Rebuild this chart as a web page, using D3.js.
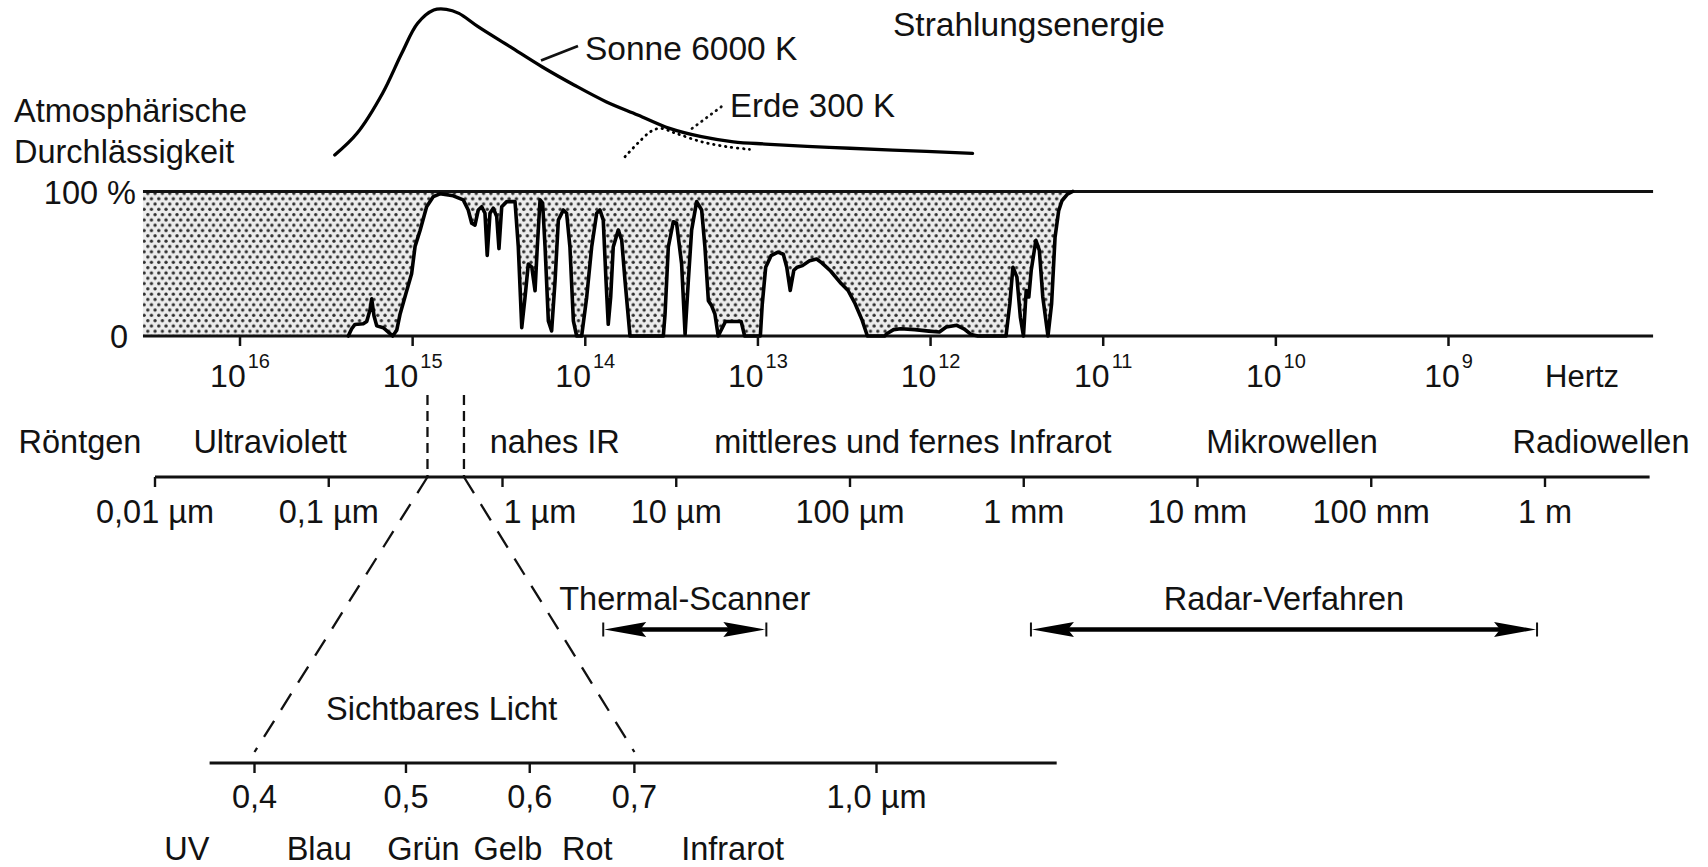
<!DOCTYPE html>
<html><head><meta charset="utf-8">
<script src="https://cdn.jsdelivr.net/npm/d3@7"></script>
<style>
html,body{margin:0;padding:0;background:#fff;}
svg text{font-family:"Liberation Sans",Arial,Helvetica,sans-serif;fill:#121212;}
</style></head><body>
<svg id="c" width="1708" height="867"></svg>
<script>
// ---------------- DATA ----------------
// frequency axis: tick exponents (10^n Hz) and visible extent of the panel (exponents)
const freqTickExps = [16, 15, 14, 13, 12, 11, 10, 9];
const freqUnit = "Hertz";
const panelExtentExp = [16.562, 7.815];

// atmospheric transmission: [log10 frequency (Hz), transmission %]
const transmission = [
[15.373,0],[15.353,5],[15.334,8],[15.286,8.5],[15.266,10],[15.247,18],[15.237,25.7],[15.224,14],[15.208,7],
[15.170,5.7],[15.131,1.6],[15.116,0],[15.092,4],[15.073,15],[15.034,31.5],[15.006,43],[14.986,62],[14.957,73],
[14.919,89.5],[14.880,96.5],[14.842,98.4],[14.803,97.7],[14.765,97],[14.707,94.2],[14.678,87.2],[14.658,78],
[14.639,76.7],[14.620,87.2],[14.600,89.5],[14.581,84.9],[14.568,55.8],[14.552,84.9],[14.533,88.4],[14.513,82.6],
[14.500,60.5],[14.484,89.5],[14.455,93],[14.407,93],[14.388,61.6],[14.368,5.8],[14.349,26.7],[14.330,49.8],
[14.310,47.7],[14.291,31.4],[14.278,61.6],[14.262,94.2],[14.247,91.9],[14.233,61.6],[14.214,10.5],[14.195,3.5],
[14.175,38.4],[14.156,80.2],[14.127,87.2],[14.108,84.9],[14.089,61.6],[14.069,10.5],[14.050,0],[14.021,0],
[13.992,26.7],[13.963,61.6],[13.934,84.9],[13.915,87.2],[13.896,80.2],[13.880,38.4],[13.867,8.1],[13.853,26.7],
[13.838,61.6],[13.809,73.3],[13.789,66.3],[13.770,38.4],[13.741,0],[13.548,0],[13.538,15.1],[13.519,61.6],
[13.490,79.1],[13.471,77.9],[13.442,49.8],[13.422,1.2],[13.403,38.4],[13.384,73.3],[13.355,93],[13.326,87.2],
[13.307,61.6],[13.287,24.4],[13.268,20.9],[13.249,15.1],[13.230,0],[13.188,10],[13.097,10],[13.077,0],
[12.986,0],[12.975,22],[12.955,47.6],[12.924,55.6],[12.884,58],[12.853,56.6],[12.833,47.6],[12.813,31.5],
[12.792,45.5],[12.772,47.6],[12.742,48.7],[12.701,52],[12.660,53.3],[12.630,50.6],[12.579,45],[12.518,36.3],
[12.478,31.5],[12.437,22.3],[12.396,10.8],[12.366,0],[12.264,0],[12.254,1.6],[12.214,4.4],[12.173,5],
[12.091,4.4],[12.010,3.4],[11.949,2.8],[11.909,6.2],[11.848,7.4],[11.807,5],[11.766,1.1],[11.726,0],
[11.563,0],[11.541,22.3],[11.523,47.6],[11.500,40.7],[11.480,13],[11.462,0],[11.446,31.5],[11.431,27],
[11.417,45.5],[11.390,66.2],[11.370,59.3],[11.350,27],[11.320,0],[11.299,22.3],[11.279,68.3],[11.258,86.7],
[11.239,93.6],[11.207,98.2],[11.177,100]
];

// radiation energy curves: [log10 frequency (Hz), relative energy]
const sunCurve = [
[15.451,3.3],[15.322,17.7],[15.174,44.3],[15.063,70.8],[14.971,90.7],[14.878,99.5],[14.805,100],[14.732,97.3],
[14.621,88.5],[14.436,75.2],[14.251,61.9],[14.065,49.8],[13.880,38.7],[13.696,29.9],[13.512,21],[13.327,15.5],
[13.142,12.1],[12.957,10.6],[12.588,8.4],[12.218,6.6],[11.757,4.4]
];
const earthCurve = [
[13.770,2.2],[13.696,11.1],[13.622,18.8],[13.567,21],[13.475,17.7],[13.327,12.1],[13.179,8.8],[13.049,7.1]
];

// wavelength axis (µm)
const waveTicks = [0.01, 0.1, 1, 10, 100, 1000, 1e4, 1e5, 1e6];
const waveTickLabels = ["0,01 µm","0,1 µm","1 µm","10 µm","100 µm","1 mm","10 mm","100 mm","1 m"];
const waveExtent = [0.01, 4e6];
const regionNames = ["Röntgen","Ultraviolett","nahes IR","mittleres und fernes Infrarot","Mikrowellen","Radiowellen"];
const regionCenters = [0.0037, 0.046, 2.0, 230, 35000, 2.1e6];
const visibleEdgesOverview = [0.37, 0.6];

// sensing methods (µm)
const methodNames = ["Thermal-Scanner","Radar-Verfahren"];
const methodRanges = [[3.8, 33], [1100, 9e5]];

// visible light detail axis (µm)
const visTicks = [0.4, 0.5, 0.6, 0.7, 1.0];
const visTickLabels = ["0,4","0,5","0,6","0,7","1,0 µm"];
const visExtent = [0.3744, 1.304];
const visibleBand = [0.4, 0.7];
const visibleLabelAt = 0.527;
const colorNames = ["UV","Blau","Grün","Gelb","Rot","Infrarot"];
const colorCenters = [0.362, 0.44, 0.513, 0.581, 0.653, 0.809];

// ---------------- DRAW ----------------
const svg = d3.select('#c');
const FS = 32.5;
const ink = '#111';

const defs = svg.append('defs');
const pat = defs.append('pattern').attr('id','dots').attr('patternUnits','userSpaceOnUse')
  .attr('width',7.3).attr('height',10.6);
pat.append('rect').attr('width',7.3).attr('height',10.6).attr('fill','#ececec');
pat.append('circle').attr('cx',1.8).attr('cy',2.6).attr('r',1.65).attr('fill','#2e2e2e');
pat.append('circle').attr('cx',5.45).attr('cy',7.9).attr('r',1.65).attr('fill','#2e2e2e');

const fx = d3.scaleLog().domain([1e16, 1e9]).range([240, 1448.5]);
const X = e => fx(Math.pow(10, e));
const ty = d3.scaleLinear().domain([0, 100]).range([336, 191.5]);
const ey = d3.scaleLinear().domain([0, 100]).range([160, 9.3]);
const wx = d3.scaleLog().domain([0.01, 1e6]).range([155, 1545]);
const vx = d3.scaleLog().domain([0.4, 1.0]).range([254.5, 876.5]);

function text(x, y, s, opts={}) {
  const t = svg.append('text').attr('x', x).attr('y', y).text(s)
    .attr('font-size', opts.size || FS)
    .attr('text-anchor', opts.anchor || 'start');
  return t;
}
function line(x1,y1,x2,y2,w,dash){
  const l = svg.append('line').attr('x1',x1).attr('y1',y1).attr('x2',x2).attr('y2',y2)
    .attr('stroke',ink).attr('stroke-width',w||2.5);
  if(dash) l.attr('stroke-dasharray',dash);
  return l;
}

// --- transmission panel ---
const areaData = [[panelExtentExp[0], 0]].concat(transmission);
svg.append('path').datum(areaData)
  .attr('d', d3.area().x(d => X(d[0])).y0(ty(100)).y1(d => ty(d[1])))
  .attr('fill','url(#dots)');
line(X(panelExtentExp[0]), ty(100), X(panelExtentExp[1]), ty(100), 2.8);
line(X(panelExtentExp[0]), ty(0), X(panelExtentExp[1]), ty(0), 2.8);
svg.append('path').datum(transmission)
  .attr('d', d3.line().x(d => X(d[0])).y(d => ty(d[1])))
  .attr('fill','none').attr('stroke','#000').attr('stroke-width',3.6)
  .attr('stroke-linejoin','round').attr('stroke-linecap','round');

// frequency ticks + labels
freqTickExps.forEach(e => {
  line(X(e), ty(0), X(e), ty(0) + 10, 2.5);
  const t = svg.append('text').attr('x', X(e)).attr('y', 387).attr('text-anchor','middle');
  t.append('tspan').attr('font-size', 32).text('10');
  t.append('tspan').attr('font-size', 20).attr('dy', -19).attr('dx', 2).text(String(e));
});
text(1545, 387, freqUnit, {size: 31});

// y labels
text(136, ty(100) + 12, '100 %', {anchor:'end'});
text(128, ty(0) + 12, '0', {anchor:'end'});
text(14, 122, 'Atmosphärische');
text(14, 163, 'Durchlässigkeit');

// --- radiation energy curves ---
const eLine = d3.line().x(d => X(d[0])).y(d => ey(d[1])).curve(d3.curveCatmullRom.alpha(0.5));
svg.append('path').datum(sunCurve).attr('d', eLine)
  .attr('fill','none').attr('stroke','#000').attr('stroke-width',3.3).attr('stroke-linecap','round');
svg.append('path').datum(earthCurve).attr('d', eLine)
  .attr('fill','none').attr('stroke','#000').attr('stroke-width',2.8)
  .attr('stroke-dasharray','0.5,5.5').attr('stroke-linecap','round');
text(893, 36, 'Strahlungsenergie', {size: 33.5});
text(585, 60, 'Sonne 6000 K', {size: 33.5});
line(541, 60.5, 578, 46, 2.8);
text(730, 116.5, 'Erde 300 K', {size: 33});
line(692, 128.5, 725, 104, 2.8, '0.5,5.5').attr('stroke-linecap','round');

// --- wavelength overview axis ---
const wy = 477;
line(wx(waveExtent[0]), wy, wx(waveExtent[1]), wy, 2.8);
waveTicks.forEach((v, i) => {
  line(wx(v), wy, wx(v), wy + 10, 2.4);
  const t = text(wx(v), 523, waveTickLabels[i], {anchor: v === 1 ? 'start' : 'middle'});
  if (v === 1) t.attr('dx', 1);
});
regionNames.forEach((n, i) => text(wx(regionCenters[i]), 453, n, {anchor:'middle'}));

// dashed zoom lines to the visible light axis
const vy = 763;
visibleEdgesOverview.forEach((v, i) => {
  line(wx(v), 395, wx(v), wy, 2.3, '10,6');
  line(wx(v), wy, vx(visibleBand[i]), 752, 2.3, '19,13');
});

// --- method arrows ---
function arrow(x1, x2, y) {
  line(x1 + 30, y, x2 - 30, y, 4.5).attr('stroke','#000');
  svg.append('path').attr('d', `M${x1+1},${y} L${x1+43},${y-7.5} L${x1+37},${y} L${x1+43},${y+7.5} Z`).attr('fill','#000');
  svg.append('path').attr('d', `M${x2-1},${y} L${x2-43},${y-7.5} L${x2-37},${y} L${x2-43},${y+7.5} Z`).attr('fill','#000');
  line(x1, y - 7, x1, y + 7, 2);
  line(x2, y - 7, x2, y + 7, 2);
}
methodRanges.forEach((r, i) => {
  const x1 = wx(r[0]), x2 = wx(r[1]);
  arrow(x1, x2, 629.5);
  text(wx(Math.sqrt(r[0] * r[1])), 610, methodNames[i], {anchor:'middle'});
});

// --- visible light detail axis ---
line(vx(visExtent[0]), vy, vx(visExtent[1]), vy, 2.8);
visTicks.forEach((v, i) => {
  line(vx(v), vy, vx(v), vy + 10, 2.4);
  text(vx(v), 808, visTickLabels[i], {anchor:'middle'});
});
text(vx(visibleLabelAt), 720, 'Sichtbares Licht', {anchor:'middle'});
colorNames.forEach((n, i) => text(vx(colorCenters[i]), 860, n, {anchor:'middle'}));
</script>
</body></html>
